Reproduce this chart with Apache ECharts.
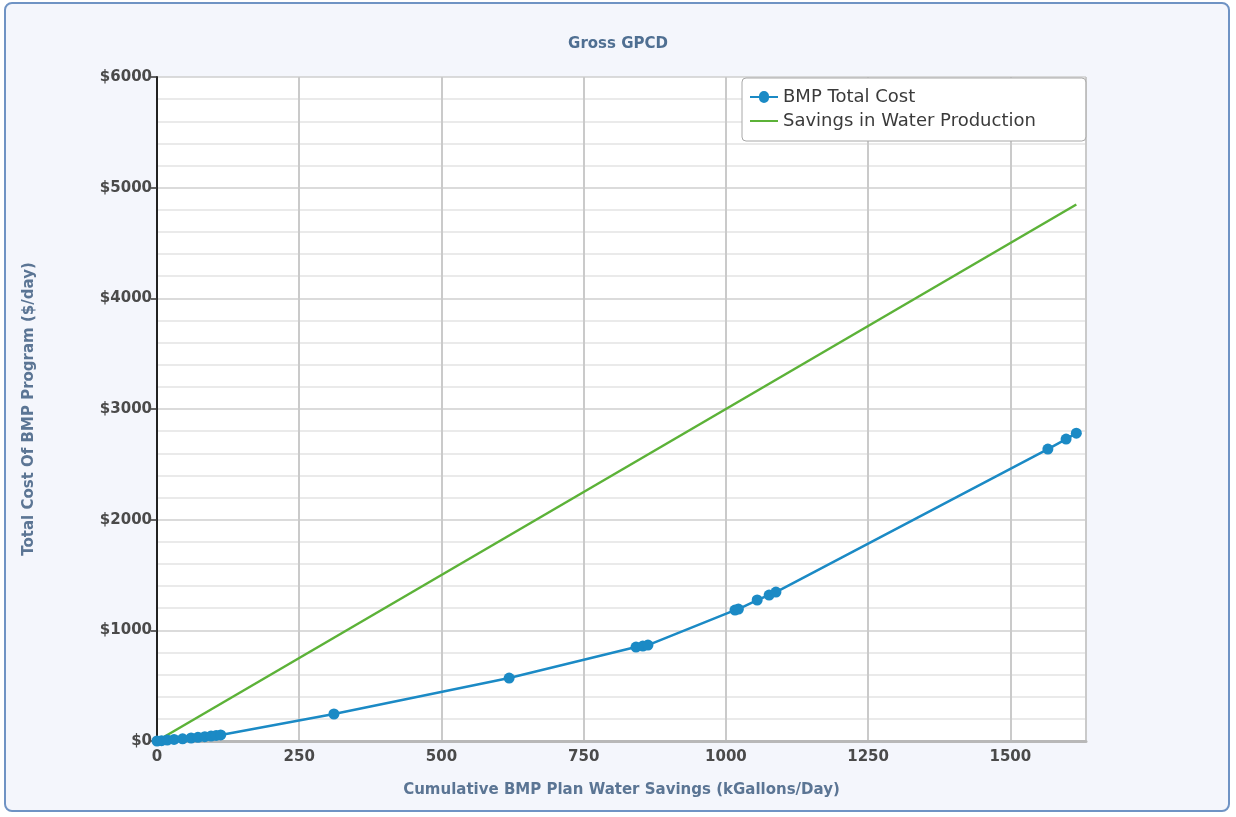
<!DOCTYPE html>
<html>
<head>
<meta charset="utf-8">
<script src="https://cdn.jsdelivr.net/npm/echarts@6/dist/echarts.min.js"></script>
<style>
html,body{margin:0;padding:0;background:#ffffff;}
#frame{position:absolute;left:4px;top:2px;width:1226px;height:810px;border:2px solid #6f93c4;border-radius:8px;background:#f4f6fc;box-sizing:border-box;}
#chart{position:absolute;left:0;top:0;width:1236px;height:817px;}
</style>
</head>
<body>
<div id="frame"></div>
<div id="chart"></div>
<script>
var titleText = 'Gross GPCD';
var xAxisName = 'Cumulative BMP Plan Water Savings (kGallons/Day)';
var yAxisName = 'Total Cost Of BMP Program ($/day)';
var seriesNames = ['BMP Total Cost', 'Savings in Water Production'];

var bmpX = [0, 8, 18, 30, 45, 60, 72, 84, 95, 104, 112, 311, 619, 842, 854, 863, 1016, 1022, 1055, 1076, 1088, 1566, 1598, 1616];
var bmpY = [0, 3, 8, 14, 20, 27, 33, 39, 45, 50, 55, 244, 569, 849, 858, 867, 1183, 1192, 1274, 1319, 1346, 2638, 2728, 2782];

var savingsX = [0, 1616];
var savingsY = [0, 4848];

var xMin = 0, xMax = 1633, xInterval = 250;
var yMin = 0, yMax = 6000, yInterval = 1000;

var bmpData = bmpX.map(function(x, i){ return [x, bmpY[i]]; });
var savData = savingsX.map(function(x, i){ return [x, savingsY[i]]; });

var chart = echarts.init(document.getElementById('chart'), null, {renderer:'canvas'});
var font = 'DejaVu Sans';
chart.setOption({
  backgroundColor: 'transparent',
  animation: false,
  title: {
    text: titleText, left: 'center', top: 32,
    textStyle: {fontFamily: font, fontSize: 15, fontWeight: 'bold', color: '#4f6f92'}
  },
  legend: {
    orient: 'vertical', left: 742, top: 78,
    padding: [10, 50, 11, 8],
    itemGap: 6,
    backgroundColor: '#ffffff', borderColor: '#a8a8a8', borderWidth: 1, borderRadius: 4,
    itemWidth: 28, itemHeight: 14,
    textStyle: {fontFamily: font, fontSize: 18, color: '#3a3a3a'},
    data: [
      {name: seriesNames[0], icon: 'path://M0,6 L9,6 A5,5 0 1 1 19,6 L28,6 L28,8 L19,8 A5,5 0 1 1 9,8 L0,8 Z'},
      {name: seriesNames[1], icon: 'path://M0,6 L28,6 L28,8 L0,8 Z'}
    ]
  },
  grid: {left: 157, top: 77, right: 150, bottom: 76, show: true, backgroundColor: '#ffffff', borderWidth: 0},
  xAxis: {
    type: 'value', min: xMin, max: xMax, interval: xInterval,
    name: xAxisName, nameLocation: 'middle', nameGap: 42,
    nameTextStyle: {fontFamily: font, fontSize: 15, fontWeight: 'bold', color: '#5b7594'},
    axisLine: {show: true, lineStyle: {color: '#b8b8b8', width: 3}},
    axisTick: {show: false},
    axisLabel: {fontFamily: font, fontSize: 15, fontWeight: 'bold', color: '#4a4a4a', margin: 9, showMaxLabel: false,
      formatter: function(v){ return String(v); }},
    splitLine: {show: true, lineStyle: {color: '#cacaca', width: 2}}
  },
  yAxis: {
    type: 'value', min: yMin, max: yMax, interval: yInterval,
    name: yAxisName, nameLocation: 'middle', nameGap: 120, nameRotate: 90,
    nameTextStyle: {fontFamily: font, fontSize: 15, fontWeight: 'bold', color: '#5b7594'},
    axisLine: {show: true, onZero: false, lineStyle: {color: '#222222', width: 2}},
    axisTick: {show: true, length: 6, lineStyle: {color: '#333333', width: 1.5}},
    axisLabel: {fontFamily: font, fontSize: 15, fontWeight: 'bold', color: '#4a4a4a', margin: 5,
      formatter: function(v){ return '$' + v; }},
    splitLine: {show: true, lineStyle: {color: '#cfcfcf', width: 1.5}},
    minorTick: {show: false, splitNumber: 5},
    minorSplitLine: {show: true, lineStyle: {color: '#e3e3e3', width: 1.5}}
  },
  series: [
    {
      name: seriesNames[0], type: 'line', data: bmpData,
      color: '#1b8ac5',
      symbol: 'circle', symbolSize: 11, showSymbol: true,
      lineStyle: {width: 2.5, color: '#1b8ac5'},
      itemStyle: {color: '#1b8ac5'},
      z: 3
    },
    {
      name: seriesNames[1], type: 'line', data: savData,
      color: '#5cb238',
      symbol: 'none', showSymbol: false,
      lineStyle: {width: 2.5, color: '#5cb238'},
      itemStyle: {color: '#5cb238'},
      z: 2
    }
  ]
});
</script>
</body>
</html>
